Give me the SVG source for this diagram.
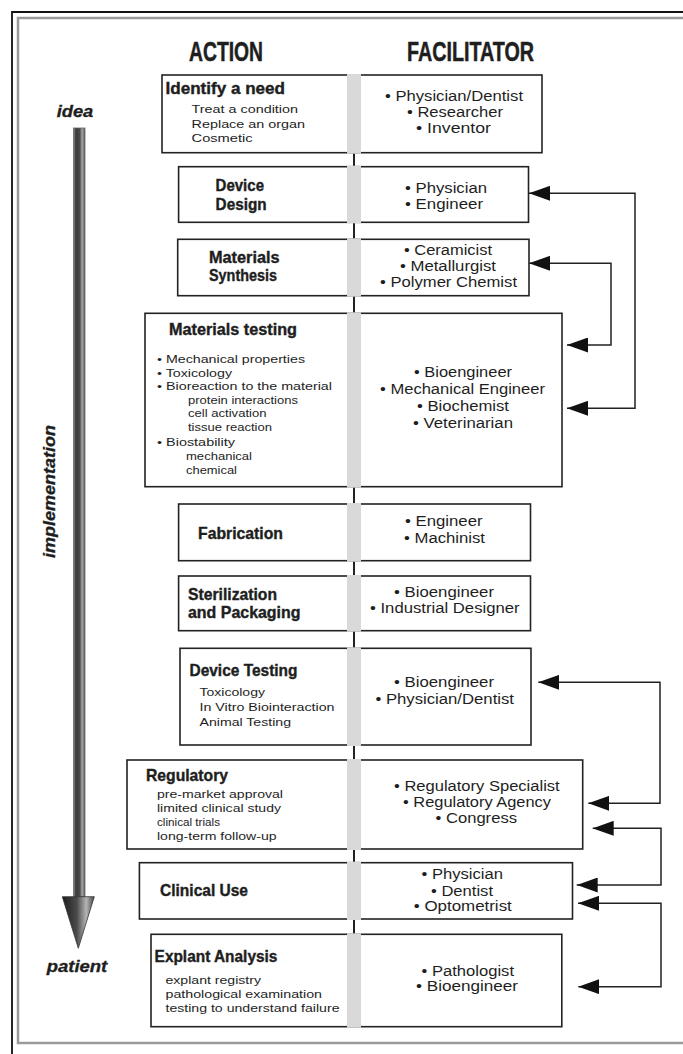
<svg xmlns="http://www.w3.org/2000/svg" width="683" height="1054" viewBox="0 0 683 1054">
<style>
.box{fill:#fff;stroke:#222;stroke-width:1.6}
.band{fill:#d9d9d9}
.t{font-family:"Liberation Sans",Arial,sans-serif;fill:#1e1e1e}
.h{font-weight:bold;font-size:17px;stroke:#1e1e1e;stroke-width:0.4}
.d{font-size:11.5px}
.r{font-size:14px}
.col{font-weight:bold;font-size:27px;stroke:#1e1e1e;stroke-width:0.5}
.side{font-weight:bold;font-style:italic;font-size:16px;stroke:#1e1e1e;stroke-width:0.3}
.conn{fill:none;stroke:#222;stroke-width:1.5}
.vline{stroke:#222;stroke-width:2}
</style>
<defs>
<marker id="ah" viewBox="0 0 21 15" markerUnits="userSpaceOnUse" markerWidth="21" markerHeight="15" refX="21" refY="7.5" orient="auto-start-reverse">
<path d="M0,0 L21,7.5 L0,15 z" fill="#111"/>
</marker>
<linearGradient id="shaft" x1="0" y1="0" x2="1" y2="0">
<stop offset="0" stop-color="#9a9a9a"/>
<stop offset="0.2" stop-color="#3a3a3a"/>
<stop offset="0.55" stop-color="#4a4a4a"/>
<stop offset="0.75" stop-color="#a8a8a8"/>
<stop offset="1" stop-color="#555"/>
</linearGradient>
<linearGradient id="head" x1="0" y1="0" x2="1" y2="0">
<stop offset="0" stop-color="#1e1e1e"/>
<stop offset="0.45" stop-color="#4a4a4a"/>
<stop offset="0.75" stop-color="#b5b5b5"/>
<stop offset="1" stop-color="#444"/>
</linearGradient>
</defs>
<rect width="683" height="1054" fill="#fff"/>
<g id="frame">
<path d="M12,1054 V12 H683" fill="none" stroke="#111" stroke-width="1.8"/>
<path d="M683,18 H18 V1043 H683" fill="none" stroke="#9a9a9a" stroke-width="2.5"/>
</g>
<g id="headers">
<text class="t col" x="189" y="61" textLength="74" lengthAdjust="spacingAndGlyphs">ACTION</text>
<text class="t col" x="407" y="61" textLength="127" lengthAdjust="spacingAndGlyphs">FACILITATOR</text>
</g>
<g id="timeline">
<rect x="73.5" y="128" width="11.5" height="769" fill="url(#shaft)" stroke="#666" stroke-width="0.8"/>
<polygon points="62.3,896.7 94.3,896.7 78.3,948.3" fill="url(#head)" stroke="#333" stroke-width="0.8"/>
<text class="t side" x="56.7" y="117" textLength="36.6" lengthAdjust="spacingAndGlyphs">idea</text>
<text class="t side" x="46.7" y="972" textLength="60.6" lengthAdjust="spacingAndGlyphs">patient</text>
<text class="t side" transform="translate(55,558) rotate(-90)" x="0" y="0" textLength="133" lengthAdjust="spacingAndGlyphs">implementation</text>
</g>
<g id="connectors">
<line class="vline" x1="354" y1="152.7" x2="354" y2="166.7"/>
<line class="vline" x1="354" y1="222.3" x2="354" y2="239.3"/>
<line class="vline" x1="354" y1="295.7" x2="354" y2="313.3"/>
<line class="vline" x1="354" y1="486.7" x2="354" y2="504"/>
<line class="vline" x1="354" y1="560.7" x2="354" y2="576"/>
<line class="vline" x1="354" y1="630.7" x2="354" y2="648.3"/>
<line class="vline" x1="354" y1="745" x2="354" y2="760"/>
<line class="vline" x1="354" y1="849" x2="354" y2="862.7"/>
<line class="vline" x1="354" y1="919" x2="354" y2="934.3"/>
<path class="conn" d="M529,193.3 H635 V408.3 H567" marker-start="url(#ah)" marker-end="url(#ah)"/>
<path class="conn" d="M529,263.3 H611 V345 H567" marker-start="url(#ah)" marker-end="url(#ah)"/>
<path class="conn" d="M538.3,682.3 H660 V803.3 H588.3" marker-start="url(#ah)" marker-end="url(#ah)"/>
<path class="conn" d="M592.7,828.3 H661 V885 H576.7" marker-start="url(#ah)" marker-end="url(#ah)"/>
<path class="conn" d="M578,903.3 H661 V986.7 H578.3" marker-start="url(#ah)" marker-end="url(#ah)"/>
</g>
<g id="identify">
<rect class="box" x="162" y="75" width="380" height="77.7"/>
<rect class="band" x="347" y="74" width="14" height="79.7"/>
<text class="t h" x="165.5" y="94" textLength="119.5" lengthAdjust="spacingAndGlyphs">Identify a need</text>
<text class="t d" x="191.6" y="113.3" textLength="106.4" lengthAdjust="spacingAndGlyphs">Treat a condition</text>
<text class="t d" x="191.6" y="127.5" textLength="113.4" lengthAdjust="spacingAndGlyphs">Replace an organ</text>
<text class="t d" x="191.6" y="141.5" textLength="61" lengthAdjust="spacingAndGlyphs">Cosmetic</text>
<text class="t r" x="385" y="101" textLength="138" lengthAdjust="spacingAndGlyphs">• Physician/Dentist</text>
<text class="t r" x="407" y="117" textLength="96" lengthAdjust="spacingAndGlyphs">• Researcher</text>
<text class="t r" x="416" y="133" textLength="75" lengthAdjust="spacingAndGlyphs">• Inventor</text>
</g>
<g id="design">
<rect class="box" x="178.6" y="166.7" width="349.9" height="55.6"/>
<rect class="band" x="347" y="165.7" width="14" height="57.6"/>
<text class="t h" x="215.6" y="190.5" textLength="48.4" lengthAdjust="spacingAndGlyphs">Device</text>
<text class="t h" x="215.6" y="210" textLength="51" lengthAdjust="spacingAndGlyphs">Design</text>
<text class="t r" x="405" y="193" textLength="82" lengthAdjust="spacingAndGlyphs">• Physician</text>
<text class="t r" x="405" y="209" textLength="78" lengthAdjust="spacingAndGlyphs">• Engineer</text>
</g>
<g id="synthesis">
<rect class="box" x="177.7" y="239.3" width="351.3" height="56.4"/>
<rect class="band" x="347" y="238.3" width="14" height="58.4"/>
<text class="t h" x="209" y="263" textLength="70.6" lengthAdjust="spacingAndGlyphs">Materials</text>
<text class="t h" x="209" y="281" textLength="68" lengthAdjust="spacingAndGlyphs">Synthesis</text>
<text class="t r" x="404" y="255" textLength="88" lengthAdjust="spacingAndGlyphs">• Ceramicist</text>
<text class="t r" x="400" y="271" textLength="96" lengthAdjust="spacingAndGlyphs">• Metallurgist</text>
<text class="t r" x="380" y="287" textLength="137" lengthAdjust="spacingAndGlyphs">• Polymer Chemist</text>
</g>
<g id="materials-testing">
<rect class="box" x="145" y="313.3" width="417" height="173.4"/>
<rect class="band" x="347" y="312.3" width="14" height="175.4"/>
<text class="t h" x="169" y="335" textLength="128" lengthAdjust="spacingAndGlyphs">Materials testing</text>
<text class="t d" x="157" y="363" textLength="148" lengthAdjust="spacingAndGlyphs">• Mechanical properties</text>
<text class="t d" x="157" y="376.5" textLength="75" lengthAdjust="spacingAndGlyphs">• Toxicology</text>
<text class="t d" x="157" y="390" textLength="175" lengthAdjust="spacingAndGlyphs">• Bioreaction to the material</text>
<text class="t d" x="188" y="403.5" textLength="110" lengthAdjust="spacingAndGlyphs">protein interactions</text>
<text class="t d" x="188" y="417" textLength="78.5" lengthAdjust="spacingAndGlyphs">cell activation</text>
<text class="t d" x="188" y="430.5" textLength="84" lengthAdjust="spacingAndGlyphs">tissue reaction</text>
<text class="t d" x="157" y="446" textLength="78" lengthAdjust="spacingAndGlyphs">• Biostability</text>
<text class="t d" x="186" y="460" textLength="66" lengthAdjust="spacingAndGlyphs">mechanical</text>
<text class="t d" x="186" y="473.5" textLength="51" lengthAdjust="spacingAndGlyphs">chemical</text>
<text class="t r" x="414" y="377" textLength="98" lengthAdjust="spacingAndGlyphs">• Bioengineer</text>
<text class="t r" x="380" y="394" textLength="165" lengthAdjust="spacingAndGlyphs">• Mechanical Engineer</text>
<text class="t r" x="417" y="411" textLength="92" lengthAdjust="spacingAndGlyphs">• Biochemist</text>
<text class="t r" x="413" y="428" textLength="100" lengthAdjust="spacingAndGlyphs">• Veterinarian</text>
</g>
<g id="fabrication">
<rect class="box" x="178.6" y="504" width="351.9" height="56.7"/>
<rect class="band" x="347" y="503" width="14" height="58.7"/>
<text class="t h" x="198" y="539" textLength="85" lengthAdjust="spacingAndGlyphs">Fabrication</text>
<text class="t r" x="405" y="526" textLength="77.6" lengthAdjust="spacingAndGlyphs">• Engineer</text>
<text class="t r" x="404" y="543" textLength="81" lengthAdjust="spacingAndGlyphs">• Machinist</text>
</g>
<g id="sterilization">
<rect class="box" x="178.6" y="576" width="351.9" height="54.7"/>
<rect class="band" x="347" y="575" width="14" height="56.7"/>
<text class="t h" x="188" y="599.5" textLength="89" lengthAdjust="spacingAndGlyphs">Sterilization</text>
<text class="t h" x="188" y="618" textLength="112.5" lengthAdjust="spacingAndGlyphs">and Packaging</text>
<text class="t r" x="394" y="597" textLength="100" lengthAdjust="spacingAndGlyphs">• Bioengineer</text>
<text class="t r" x="370" y="613" textLength="149.6" lengthAdjust="spacingAndGlyphs">• Industrial Designer</text>
</g>
<g id="device-testing">
<rect class="box" x="180" y="648.3" width="351" height="96.7"/>
<rect class="band" x="347" y="647.3" width="14" height="98.7"/>
<text class="t h" x="189.5" y="676" textLength="108" lengthAdjust="spacingAndGlyphs">Device Testing</text>
<text class="t d" x="199.5" y="696" textLength="65.5" lengthAdjust="spacingAndGlyphs">Toxicology</text>
<text class="t d" x="199.5" y="711" textLength="135" lengthAdjust="spacingAndGlyphs">In Vitro Biointeraction</text>
<text class="t d" x="199.5" y="726" textLength="91.5" lengthAdjust="spacingAndGlyphs">Animal Testing</text>
<text class="t r" x="394" y="687" textLength="100" lengthAdjust="spacingAndGlyphs">• Bioengineer</text>
<text class="t r" x="375.4" y="704" textLength="138.6" lengthAdjust="spacingAndGlyphs">• Physician/Dentist</text>
</g>
<g id="regulatory">
<rect class="box" x="127" y="760" width="455.7" height="89"/>
<rect class="band" x="347" y="759" width="14" height="91"/>
<text class="t h" x="146" y="781" textLength="82" lengthAdjust="spacingAndGlyphs">Regulatory</text>
<text class="t d" x="157" y="798" textLength="126" lengthAdjust="spacingAndGlyphs">pre-market approval</text>
<text class="t d" x="157" y="812" textLength="124" lengthAdjust="spacingAndGlyphs">limited clinical study</text>
<text class="t d" x="157" y="826" textLength="63" lengthAdjust="spacingAndGlyphs">clinical trials</text>
<text class="t d" x="157" y="840" textLength="119.6" lengthAdjust="spacingAndGlyphs">long-term follow-up</text>
<text class="t r" x="394" y="790.5" textLength="165.7" lengthAdjust="spacingAndGlyphs">• Regulatory Specialist</text>
<text class="t r" x="403" y="807" textLength="148" lengthAdjust="spacingAndGlyphs">• Regulatory Agency</text>
<text class="t r" x="435.5" y="823" textLength="81.5" lengthAdjust="spacingAndGlyphs">• Congress</text>
</g>
<g id="clinical-use">
<rect class="box" x="139.4" y="862.7" width="433.1" height="56.3"/>
<rect class="band" x="347" y="861.7" width="14" height="58.3"/>
<text class="t h" x="160" y="896" textLength="88" lengthAdjust="spacingAndGlyphs">Clinical Use</text>
<text class="t r" x="421.6" y="879" textLength="81.4" lengthAdjust="spacingAndGlyphs">• Physician</text>
<text class="t r" x="431" y="896" textLength="62" lengthAdjust="spacingAndGlyphs">• Dentist</text>
<text class="t r" x="413.8" y="911" textLength="98" lengthAdjust="spacingAndGlyphs">• Optometrist</text>
</g>
<g id="explant">
<rect class="box" x="151" y="934.3" width="410.8" height="92.4"/>
<rect class="band" x="347" y="933.3" width="14" height="94.4"/>
<text class="t h" x="154.6" y="962" textLength="122.8" lengthAdjust="spacingAndGlyphs">Explant Analysis</text>
<text class="t d" x="165.5" y="983.5" textLength="95.5" lengthAdjust="spacingAndGlyphs">explant registry</text>
<text class="t d" x="165.5" y="997.5" textLength="156.5" lengthAdjust="spacingAndGlyphs">pathological examination</text>
<text class="t d" x="165.5" y="1011.5" textLength="174" lengthAdjust="spacingAndGlyphs">testing to understand failure</text>
<text class="t r" x="421.6" y="976" textLength="92.4" lengthAdjust="spacingAndGlyphs">• Pathologist</text>
<text class="t r" x="416" y="991" textLength="102" lengthAdjust="spacingAndGlyphs">• Bioengineer</text>
</g>
</svg>
